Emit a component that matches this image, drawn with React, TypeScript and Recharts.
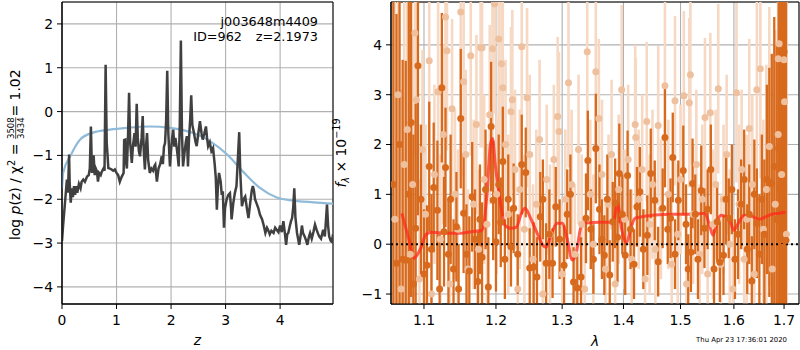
import React from 'react';
import {
  LineChart, Line, XAxis, YAxis, CartesianGrid, ReferenceArea, ReferenceLine,
  ComposedChart, Scatter, ErrorBar,
} from 'recharts';

const FONT = 'DejaVu Sans, sans-serif';
const GRID = '#b0b0b0';
const FS = 13.9;

// ---------------- left panel: p(z) ----------------
const zTicks = [0, 1, 2, 3, 4];
const logTicks = [-4, -3, -2, -1, 0, 1, 2];
const zDomain: [number, number] = [0, 4.97];
const logDomain: [number, number] = [-4.39, 2.5];

const pzZ = [
  0.00, 0.02, 0.04, 0.06, 0.08, 0.09, 0.11, 0.13, 0.14, 0.16, 0.18, 0.20, 0.22, 0.24, 0.26, 0.28, 0.31, 0.34, 0.36, 0.39,
  0.42, 0.46, 0.49, 0.51, 0.53, 0.55, 0.58, 0.60, 0.62, 0.64, 0.66, 0.68, 0.71, 0.73, 0.76, 0.78, 0.80, 0.82, 0.85, 0.88,
  0.91, 0.94, 0.97, 1.00, 1.03, 1.06, 1.09, 1.11, 1.13, 1.14, 1.16, 1.17, 1.19, 1.21, 1.23, 1.25, 1.28, 1.30, 1.33, 1.35,
  1.37, 1.39, 1.41, 1.43, 1.46, 1.48, 1.50, 1.52, 1.54, 1.56, 1.58, 1.61, 1.64, 1.67, 1.69, 1.71, 1.74, 1.77, 1.80, 1.83,
  1.85, 1.87, 1.89, 1.91, 1.93, 1.95, 1.98, 2.00, 2.02, 2.04, 2.06, 2.08, 2.10, 2.12, 2.14, 2.16, 2.18, 2.20, 2.22, 2.25,
  2.27, 2.29, 2.31, 2.33, 2.35, 2.37, 2.39, 2.42, 2.45, 2.47, 2.50, 2.53, 2.56, 2.58, 2.61, 2.64, 2.66, 2.68, 2.71, 2.74,
  2.77, 2.80, 2.82, 2.84, 2.86, 2.88, 2.91, 2.93, 2.95, 2.97, 2.99, 3.02, 3.05, 3.08, 3.10, 3.11, 3.14, 3.17, 3.20, 3.22,
  3.25, 3.27, 3.30, 3.33, 3.36, 3.39, 3.42, 3.45, 3.48, 3.50, 3.52, 3.54, 3.57, 3.60, 3.63, 3.67, 3.70, 3.73, 3.76, 3.78,
  3.81, 3.84, 3.88, 3.91, 3.94, 3.97, 4.00, 4.03, 4.06, 4.09, 4.11, 4.13, 4.15, 4.18, 4.20, 4.22, 4.24, 4.26, 4.28, 4.31,
  4.33, 4.35, 4.38, 4.40, 4.42, 4.45, 4.48, 4.50, 4.53, 4.55, 4.58, 4.61, 4.64, 4.67, 4.70, 4.72, 4.75, 4.77, 4.79, 4.82,
  4.84, 4.86, 4.88, 4.90, 4.93, 4.95, 4.97,
];
const pzLog = [
  -2.95, -2.6, -2.3, -2.0, -1.7, -1.55, -1.85, -0.98, -1.6, -2.08, -1.75, -1.95, -1.7, -1.9, -1.7, -1.85, -1.65, -1.75, -1.6, -1.55,
  -1.6, -1.48, -1.45, -1.3, -0.34, -1.4, -1.0, -1.45, -1.3, -1.36, -1.6, -1.4, -1.45, -1.37, -1.3, -1.35, 1.07, -0.7, -1.29, -1.3,
  -1.32, -1.35, -1.32, -1.4, -1.45, -1.6, -1.5, -1.45, -1.4, -0.65, -0.64, -1.1, -1.3, -0.6, 0.43, -0.7, -1.17, -0.8, -0.49, -0.8,
  0.18, -0.6, -0.9, -1.02, -0.6, -0.1, -0.9, -1.32, -0.8, -0.49, -1.1, -1.4, -1.3, -1.35, -1.25, -1.21, -1.6, -1.3, -1.2, -1.02,
  -1.2, -0.8, -0.72, -0.2, 0.93, -0.5, -1.25, -0.9, -0.6, -0.41, -0.8, -0.6, -0.79, -1.0, -1.25, -0.3, 1.62, -0.5, -1.25, -0.9,
  -0.7, -0.56, -1.25, -0.6, -0.2, 0.37, -0.3, -0.49, -0.7, -0.79, -0.5, -0.22, -0.5, -0.64, -0.5, -0.34, -0.6, -0.79, -0.7, -0.9,
  -0.83, -1.2, -1.5, -2.24, -1.7, -1.4, -1.6, -1.9, -1.82, -2.65, -2.2, -2.0, -1.9, -1.86, -2.2, -2.46, -2.1, -1.86, -1.7, -1.2,
  -0.47, -1.4, -2.16, -2.0, -1.94, -2.2, -2.43, -2.1, -1.8, -1.7, -1.8, -2.0, -2.1, -2.2, -2.35, -2.46, -2.6, -2.77, -2.65, -2.7,
  -2.8, -2.72, -2.77, -2.65, -2.7, -2.75, -2.6, -2.75, -2.5, -2.8, -3.04, -2.8, -2.77, -2.6, -2.5, -2.43, -2.2, -1.75, -2.4, -2.77,
  -2.9, -3.04, -2.8, -2.6, -2.77, -2.85, -2.95, -3.04, -2.85, -2.77, -2.9, -2.75, -2.58, -2.7, -2.8, -2.85, -2.9, -2.8, -2.7, -2.85,
  -2.5, -2.12, -2.6, -2.85, -2.95, -2.97, -2.8,
];
const smoothZ = [0.0, 0.02, 0.15, 0.33, 0.57, 0.88, 1.19, 1.61, 1.98, 2.41, 2.72, 3.03, 3.32, 3.63, 3.94, 4.24, 4.61, 4.97];
const smoothLog = [-1.75, -1.4, -1.02, -0.64, -0.48, -0.41, -0.37, -0.34, -0.37, -0.49, -0.68, -0.98, -1.37, -1.74, -1.96, -2.03, -2.07, -2.1];

// ---------------- right panel: spectrum ----------------
const lamTicks = [1.1, 1.2, 1.3, 1.4, 1.5, 1.6, 1.7];
const fluxTicks = [-1, 0, 1, 2, 3, 4];
const lamDomain: [number, number] = [1.057, 1.731];
const fluxDomain: [number, number] = [-1.2, 4.86];

// [wavelength, flux, error]
const darkPoints: number[][] = [
  [1.060, 1.2, 6], [1.064, -0.38, 5], [1.068, 2.0, 5], [1.072, -0.3, 4], [1.076, -0.32, 4], [1.080, 1.0, 4],
  [1.083, 2.44, 3.5], [1.086, -0.8, 3], [1.089, 0.32, 2.5], [1.092, 3.58, 3], [1.096, 0.9, 1.5], [1.100, -0.6, 1.3],
  [1.104, -0.42, 1.2], [1.107, 1.56, 1.3], [1.110, -0.1, 1.1], [1.113, 1.14, 1.3], [1.118, 0.68, 1.4], [1.121, -0.9, 1.1],
  [1.124, 3.14, 1.5], [1.127, 0.25, 1.1], [1.129, 1.54, 1.2], [1.133, -0.2, 1.1], [1.136, 0.9, 1.3], [1.140, -0.5, 1.0],
  [1.144, 0.35, 1.1], [1.147, -0.9, 0.9], [1.150, 2.52, 1.4], [1.154, 0.62, 1.2], [1.158, -0.2, 1.0], [1.162, -0.54, 1.1],
  [1.166, 0.95, 1.1], [1.170, 0.1, 1.0], [1.174, -0.75, 1.0], [1.177, 0.5, 1.1], [1.180, -0.26, 1.1], [1.185, 1.1, 1.2],
  [1.189, -0.86, 1.0], [1.193, 2.36, 1.3], [1.196, 0.88, 1.2], [1.200, 0.05, 1.0], [1.204, 1.2, 1.0], [1.207, 0.44, 0.9],
  [1.210, 1.66, 1.1], [1.213, -0.3, 0.8], [1.218, 0.9, 0.9], [1.222, -0.05, 0.8], [1.226, 0.72, 0.9], [1.232, -0.2, 0.8],
  [1.238, 1.6, 1.0], [1.244, 1.44, 0.9], [1.250, -0.48, 0.8], [1.256, -0.46, 0.9], [1.261, -0.66, 0.8], [1.266, 0.55, 0.9],
  [1.270, 0.9, 0.8], [1.275, -0.38, 0.8], [1.280, 0.2, 0.9], [1.285, -0.38, 0.7], [1.290, 0.75, 0.8], [1.296, 0.1, 0.8],
  [1.303, -0.42, 0.8], [1.308, 0.6, 0.9], [1.313, 1.0, 0.8], [1.318, -0.76, 0.7], [1.324, -0.88, 0.7], [1.330, -0.66, 0.8],
  [1.338, 0.52, 0.9], [1.341, 1.68, 1.0], [1.346, 0.3, 0.8], [1.350, -0.3, 0.7], [1.354, 1.92, 1.1], [1.360, 0.7, 0.9],
  [1.364, 0.1, 0.8], [1.368, -0.22, 0.8], [1.373, 0.9, 0.9], [1.377, -0.62, 0.7], [1.382, 0.45, 0.8], [1.386, 0.82, 0.9],
  [1.390, 0.14, 0.9], [1.393, 1.42, 1.0], [1.398, 0.6, 0.8], [1.403, -0.22, 0.8], [1.407, 1.38, 0.9], [1.412, 0.3, 0.8],
  [1.418, -0.4, 0.7], [1.423, 0.75, 0.8], [1.428, 1.05, 0.9], [1.434, -0.1, 0.8], [1.441, 0.18, 0.8], [1.447, 1.42, 0.9],
  [1.454, 0.88, 0.8], [1.460, -0.35, 0.7], [1.468, 0.72, 0.8], [1.472, 2.14, 1.0], [1.477, 0.3, 0.7], [1.482, 0.52, 0.8],
  [1.486, 1.74, 0.9], [1.490, -0.2, 0.7], [1.496, 0.88, 0.8], [1.505, 1.48, 0.9], [1.510, 0.4, 0.8], [1.514, -0.5, 0.7],
  [1.519, -0.16, 0.8], [1.522, 1.22, 0.9], [1.527, 0.6, 0.8], [1.532, -0.3, 0.8], [1.538, 1.08, 0.9], [1.544, 0.32, 0.8],
  [1.550, 0.7, 0.8], [1.556, 1.5, 0.9], [1.562, -0.5, 0.8], [1.568, 0.45, 0.8], [1.573, -0.36, 0.8], [1.580, -0.22, 0.8],
  [1.585, 0.9, 0.9], [1.590, 0.52, 0.8], [1.596, 1.1, 0.9], [1.602, -0.3, 0.8], [1.608, 0.2, 0.9], [1.614, 0.8, 0.9],
  [1.620, 1.3, 1.0], [1.626, -0.1, 0.9], [1.630, 0.6, 1.0], [1.635, -0.74, 0.9], [1.640, 1.0, 1.1], [1.645, 0.42, 1.1],
  [1.650, -0.2, 1.2], [1.655, 0.9, 1.3], [1.660, 0.2, 1.5], [1.665, 1.3, 1.9], [1.670, 1.24, 2.3], [1.675, 1.22, 2.6],
  [1.680, 1.56, 3], [1.685, 0.5, 3.5], [1.689, 1.92, 4], [1.692, 1.12, 5], [1.696, -0.06, 5], [1.700, 3.86, 6],
  [1.704, 0.08, 6],
];

const lightPoints: number[][] = [
  [1.062, 0.5, 5], [1.066, 3.0, 5], [1.070, -0.9, 4], [1.074, 1.6, 4], [1.078, 2.3, 3.5], [1.082, -0.2, 3],
  [1.085, 1.2, 3], [1.088, 4.24, 2.5], [1.090, 2.9, 2.5], [1.094, -0.7, 2], [1.098, 1.9, 2], [1.102, 0.6, 1.8],
  [1.107, 3.68, 2], [1.110, -1.0, 1.8], [1.114, 1.4, 1.8], [1.119, 3.06, 2], [1.122, 0.1, 1.7], [1.126, 2.2, 1.8],
  [1.129, 4.56, 2.2], [1.131, 3.88, 2], [1.135, -0.8, 1.6], [1.138, 2.72, 1.8], [1.142, 1.0, 1.7], [1.146, 0.3, 1.6],
  [1.150, 4.66, 2.2], [1.154, 3.26, 1.9], [1.157, 1.8, 1.7], [1.160, -0.5, 1.6], [1.164, 3.78, 2], [1.168, 0.8, 1.7],
  [1.172, 2.4, 1.8], [1.175, -0.1, 1.6], [1.178, 3.94, 2], [1.180, 3.94, 2], [1.183, 1.3, 1.7], [1.187, 0.4, 1.6],
  [1.191, 2.6, 1.8], [1.195, 3.92, 2], [1.198, 4.82, 2.2], [1.201, 1.0, 1.6], [1.204, 4.12, 2], [1.208, 3.62, 1.9],
  [1.210, 3.14, 1.8], [1.214, 2.0, 1.7], [1.218, 0.6, 1.6], [1.222, 2.66, 1.7], [1.224, 2.9, 1.8], [1.228, 1.5, 1.6],
  [1.232, -0.9, 1.5], [1.235, 1.1, 1.6], [1.238, 3.96, 1.9], [1.242, 0.3, 1.5], [1.246, 2.94, 1.8], [1.250, 1.8, 1.6],
  [1.255, -0.3, 1.5], [1.260, 0.8, 1.5], [1.265, 2.1, 1.6], [1.270, -1.0, 1.5], [1.276, 1.3, 1.5], [1.281, 0.2, 1.4],
  [1.287, 1.7, 1.5], [1.293, 2.56, 1.6], [1.295, 2.26, 1.6], [1.300, -0.6, 1.4], [1.305, 0.9, 1.4], [1.310, 3.24, 1.7],
  [1.315, 1.2, 1.5], [1.320, -0.2, 1.4], [1.326, 1.9, 1.5], [1.331, 0.4, 1.4], [1.336, -0.9, 1.4], [1.340, 3.86, 1.8],
  [1.345, 1.0, 1.5], [1.350, 0.0, 1.4], [1.354, 3.46, 1.7], [1.359, 2.52, 1.6], [1.364, 1.4, 1.5], [1.370, -0.5, 1.4],
  [1.375, 0.8, 1.4], [1.380, 1.8, 1.5], [1.386, -0.8, 1.4], [1.392, 1.1, 1.5], [1.397, 3.1, 1.7], [1.402, 0.5, 1.4],
  [1.408, 1.7, 1.5], [1.414, -0.3, 1.4], [1.420, 2.4, 1.6], [1.421, 2.14, 1.6], [1.426, 0.9, 1.4], [1.432, 1.5, 1.5],
  [1.437, -0.7, 1.4], [1.440, 2.46, 1.6], [1.445, 0.4, 1.4], [1.450, 1.2, 1.5], [1.455, -0.1, 1.4], [1.460, 2.38, 1.6],
  [1.465, 0.7, 1.4], [1.472, 3.18, 1.7], [1.478, 1.0, 1.5], [1.484, -0.4, 1.4], [1.490, 2.88, 1.7], [1.495, 0.2, 1.4],
  [1.500, 1.3, 1.5], [1.506, 2.98, 1.7], [1.511, -0.8, 1.4], [1.516, 2.84, 1.7], [1.518, 3.4, 1.8], [1.523, 0.6, 1.4],
  [1.529, 1.6, 1.5], [1.535, -0.2, 1.4], [1.540, 0.9, 1.5], [1.545, 2.54, 1.6], [1.550, -0.6, 1.4], [1.555, 2.64, 1.6],
  [1.560, 0.4, 1.5], [1.565, 1.2, 1.5], [1.570, 3.12, 1.7], [1.575, -0.4, 1.4], [1.580, 0.9, 1.5], [1.586, 1.8, 1.6],
  [1.592, 0.0, 1.5], [1.598, -0.9, 1.5], [1.605, 3.04, 1.8], [1.610, 0.8, 1.6], [1.615, 1.5, 1.6], [1.620, -0.3, 1.6],
  [1.625, 0.5, 1.7], [1.630, 2.32, 1.8], [1.636, 1.2, 1.8], [1.640, -0.6, 1.8], [1.645, 3.1, 2], [1.652, 3.52, 2.2],
  [1.658, 0.3, 2.2], [1.664, 1.1, 2.5], [1.670, 1.96, 2.8], [1.676, -0.5, 3], [1.682, 0.8, 3.5], [1.688, 2.2, 4],
  [1.688, 3.72, 4], [1.690, 4.02, 4.5], [1.695, 1.4, 5], [1.700, 3.7, 5], [1.701, 2.86, 5], [1.705, 0.2, 5],
];

// [wavelength, model flux]
const modelPoints: number[][] = [
  [1.071, 0.62], [1.080, 0.1], [1.087, -0.28], [1.095, -0.1], [1.103, 0.2], [1.110, 0.24], [1.130, 0.22], [1.150, 0.22],
  [1.165, 0.25], [1.180, 0.28], [1.187, 1.0], [1.192, 2.0], [1.195, 2.12], [1.199, 1.6], [1.206, 0.88], [1.213, 0.38],
  [1.222, 0.32], [1.230, 0.34], [1.237, 0.6], [1.243, 0.72], [1.252, 0.5], [1.262, 0.2], [1.270, -0.02], [1.275, -0.06],
  [1.283, 0.2], [1.292, 0.42], [1.300, 0.42], [1.308, 0.1], [1.316, -0.32], [1.322, -0.2], [1.330, 0.35], [1.336, 0.42],
  [1.360, 0.44], [1.383, 0.44], [1.390, 0.82], [1.397, 0.3], [1.405, 0.02], [1.412, 0.3], [1.420, 0.52], [1.450, 0.58],
  [1.486, 0.6], [1.520, 0.6], [1.545, 0.62], [1.553, 0.4], [1.560, 0.18], [1.568, 0.45], [1.575, 0.58], [1.585, 0.55],
  [1.593, 0.45], [1.600, 0.28], [1.610, 0.45], [1.620, 0.58], [1.635, 0.56], [1.650, 0.5], [1.662, 0.55], [1.675, 0.6],
  [1.690, 0.62], [1.703, 0.64],
];

const titleName = 'j003648m4409';
const titleId = 'ID=962';
const titleZ = 'z=2.1973';
const timestamp = 'Thu Apr 23 17:36:01 2020';

// ---------------- derived tables ----------------
const pzData = pzZ.map((z, i) => ({ z, v: pzLog[i] }));
const smoothData = smoothZ.map((z, i) => ({ z, v: smoothLog[i] }));
// error bars are cut at the plot frame (as the reference's clipped bars are)
const clipErr = (f: number, e: number) => [
  Math.max(0, Math.min(e, f - fluxDomain[0])),
  Math.max(0, Math.min(e, fluxDomain[1] - f)),
];
const darkData = darkPoints.map(([w, f, e]) => ({ w, f, e: clipErr(f, e) }));
const lightData = lightPoints.map(([w, f, e]) => ({ w, f, e: clipErr(f, e) }));
const modelData = modelPoints.map(([w, f]) => ({ w, f }));

const fmt = (v: number) => (v < 0 ? '\u2212' + Math.abs(v) : String(v));
const tickStyle = { fill: '#000', fontSize: FS, fontFamily: FONT };

const DARK = '#d86a1d';
const LIGHT_BAR = '#f6d8c3';
const LIGHT_DOT = '#efc09e';

const LeftYLabel = (props: any) => {
  const vb = props.viewBox || { x: 0, y: 2, width: 62, height: 302 };
  const cy = vb.y + vb.height / 2;
  const x0 = -87;
  const fx = x0 + 101;
  return (
    <g transform={`translate(20,${cy}) rotate(-90)`} fontFamily={FONT} fill="#000">
      <text x={x0} y={0} fontSize={FS}>
        log <tspan fontStyle="italic">p</tspan>(z) / χ<tspan dy={-5} fontSize={9.7}>2</tspan>
        <tspan dy={5}> =</tspan>
      </text>
      <text x={fx} y={-6} fontSize={8.5}>3508</text>
      <line x1={fx} x2={fx + 21.6} y1={-4.3} y2={-4.3} stroke="#000" strokeWidth={0.7} />
      <text x={fx} y={3.8} fontSize={8.5}>3434</text>
      <text x={fx + 22.5} y={0} fontSize={FS}> = 1.02</text>
    </g>
  );
};

const RightYLabel = (props: any) => {
  const vb = props.viewBox || { x: 0, y: 2, width: 61, height: 302 };
  const cy = vb.y + vb.height / 2;
  return (
    <g transform={`translate(${vb.x + 16},${cy}) rotate(-90)`} fontFamily={FONT} fill="#000">
      <text x={0} y={0} fontSize={FS} textAnchor="middle">
        <tspan fontStyle="italic">f</tspan>
        <tspan dy={3} fontSize={9.7} fontStyle="italic">λ</tspan>
        <tspan dy={-3}> × 10</tspan>
        <tspan dy={-6} fontSize={9.7}>−19</tspan>
      </text>
    </g>
  );
};

const DarkDot = (p: any) => <circle cx={p.cx} cy={p.cy} r={3.5} fill={DARK} />;
const LightDot = (p: any) => <circle cx={p.cx} cy={p.cy} r={3.5} fill={LIGHT_DOT} />;

export default function App() {
  return (
    <div style={{ position: 'absolute', left: 0, top: 0, width: 800, height: 350, background: '#fff', overflow: 'hidden' }}>
      <div style={{ position: 'absolute', left: 0, top: 0 }}>
        <LineChart width={340} height={350} margin={{ top: 2, right: 7, bottom: 0, left: 0 }}>
          <CartesianGrid stroke={GRID} strokeWidth={1.1} />
          <XAxis
            type="number" dataKey="z" domain={zDomain} ticks={zTicks} allowDataOverflow height={46}
            tickSize={5} tickMargin={6} tick={tickStyle} tickLine={{ stroke: '#000' }} axisLine={{ stroke: '#000' }}
            tickFormatter={fmt}
            label={{ value: 'z', position: 'insideBottom', offset: 5, fill: '#000', fontSize: FS, fontStyle: 'italic', fontFamily: FONT }}
          />
          <YAxis
            type="number" domain={logDomain} ticks={logTicks} allowDataOverflow width={62}
            tickSize={5} tickMargin={4} tick={tickStyle} tickLine={{ stroke: '#000' }} axisLine={{ stroke: '#000' }}
            tickFormatter={fmt} label={LeftYLabel}
          />
          <Line data={smoothData} dataKey="v" type="monotone" stroke="#8fbbd9" strokeWidth={2.2} dot={false} isAnimationActive={false} />
          <Line data={pzData} dataKey="v" type="linear" stroke="#404040" strokeWidth={2.5} dot={false} isAnimationActive={false} />
          <ReferenceArea x1={zDomain[0]} x2={zDomain[1]} y1={logDomain[0]} y2={logDomain[1]} fill="none" fillOpacity={0} stroke="#000" strokeWidth={1} ifOverflow="visible" />
        </LineChart>
      </div>
      <div style={{ position: 'absolute', left: 330, top: 0 }}>
        <ComposedChart width={470} height={350} margin={{ top: 2, right: 1, bottom: 0, left: 0 }}>
          <CartesianGrid stroke={GRID} strokeWidth={1.1} />
          <XAxis
            type="number" dataKey="w" scale="log" domain={lamDomain} ticks={lamTicks} allowDataOverflow height={46}
            tickSize={5} tickMargin={6} tick={tickStyle} tickLine={{ stroke: '#000' }} axisLine={{ stroke: '#000' }}
            label={{ value: 'λ', position: 'insideBottom', offset: 4, fill: '#000', fontSize: FS, fontStyle: 'italic', fontFamily: FONT }}
          />
          <YAxis
            type="number" dataKey="f" domain={fluxDomain} ticks={fluxTicks} allowDataOverflow width={61}
            tickSize={5} tickMargin={4} tick={tickStyle} tickLine={{ stroke: '#000' }} axisLine={{ stroke: '#000' }}
            tickFormatter={fmt} label={RightYLabel}
          />
          <Scatter data={lightData} dataKey="f" shape={LightDot} isAnimationActive={false}>
            <ErrorBar dataKey="e" direction="y" width={0} stroke={LIGHT_BAR} strokeWidth={2.6} isAnimationActive={false} />
          </Scatter>
          <Scatter data={darkData} dataKey="f" shape={DarkDot} isAnimationActive={false}>
            <ErrorBar dataKey="e" direction="y" width={0} stroke={DARK} strokeWidth={2.3} isAnimationActive={false} />
          </Scatter>
          <Line data={modelData} dataKey="f" type="monotone" stroke="#ff2a1a" strokeOpacity={0.75} strokeWidth={3} dot={false} isAnimationActive={false} />
          <ReferenceLine y={0} stroke="#000" strokeWidth={2} strokeDasharray="2 3" />
          <ReferenceArea x1={lamDomain[0]} x2={lamDomain[1]} y1={fluxDomain[0]} y2={fluxDomain[1]} fill="none" fillOpacity={0} stroke="#000" strokeWidth={1} ifOverflow="visible" />
        </ComposedChart>
      </div>
      <svg width={800} height={350} style={{ position: 'absolute', left: 0, top: 0, pointerEvents: 'none' }} fontFamily={FONT}>
        <text x={318} y={26} fontSize={12.8} textAnchor="end" fill="#000">{titleName}</text>
        <text x={242} y={41} fontSize={12.8} textAnchor="end" fill="#000">{titleId}</text>
        <text x={318} y={41} fontSize={12.8} textAnchor="end" fill="#000">{titleZ}</text>
        <text x={787} y={342} fontSize={6.9} textAnchor="end" fill="#000">{timestamp}</text>
      </svg>
    </div>
  );
}
